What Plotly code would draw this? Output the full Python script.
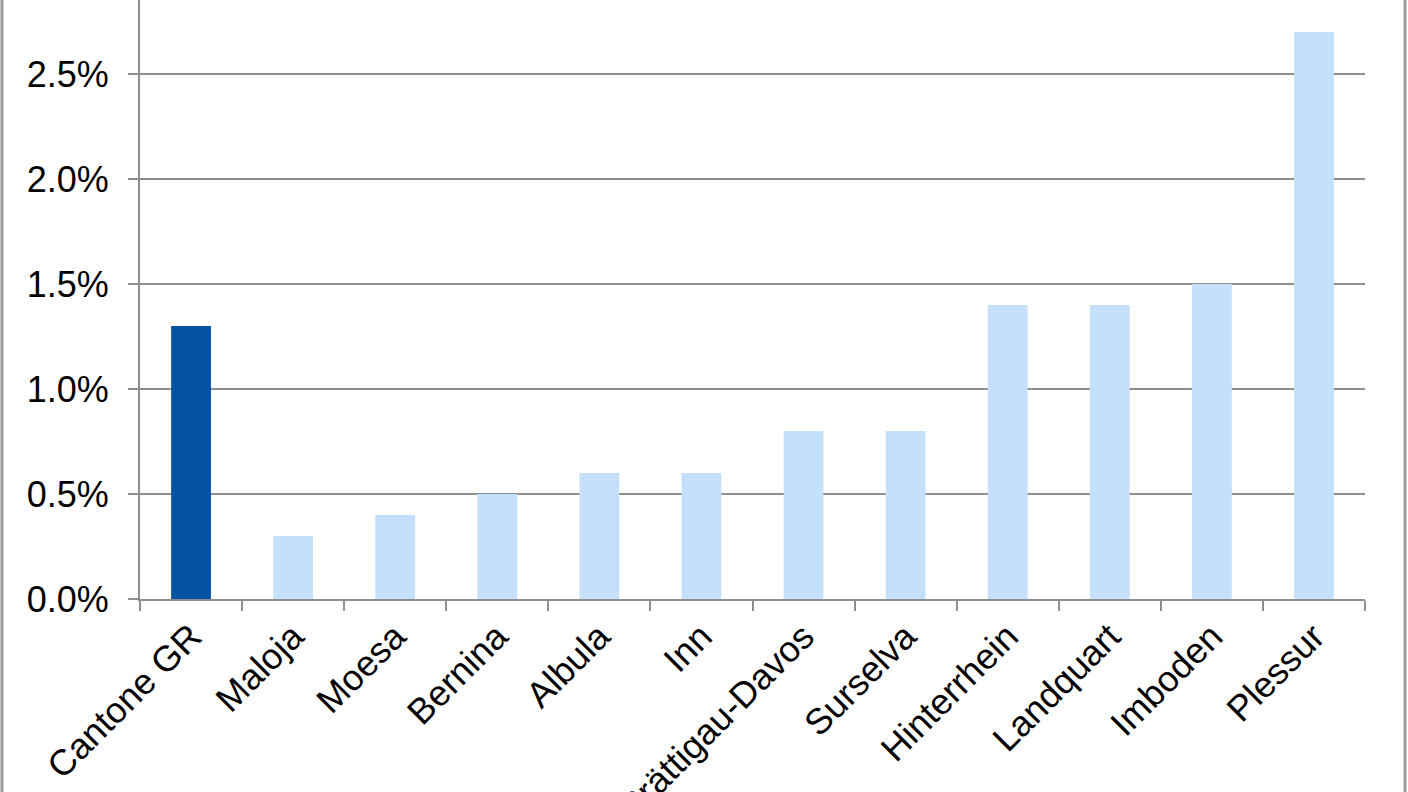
import plotly.graph_objects as go

# Categories and values (share in %)
districts = ["Cantone GR", "Maloja", "Moesa", "Bernina", "Albula", "Inn",
             "Prättigau-Davos", "Surselva", "Hinterrhein", "Landquart",
             "Imboden", "Plessur"]
shares = [1.3, 0.3, 0.4, 0.5, 0.6, 0.6, 0.8, 0.8, 1.4, 1.4, 1.5, 2.7]
tick_vals = [0, 0.5, 1.0, 1.5, 2.0, 2.5, 3.0]
tick_text = ["0.0%", "0.5%", "1.0%", "1.5%", "2.0%", "2.5%", "3.0%"]

# canton bar dark, districts light
bar_colors = ["#0551A2"] + ["#C5E0FA"] * (len(districts) - 1)

fig = go.Figure()
fig.add_trace(go.Bar(
    x=districts,
    y=shares,
    width=0.39,
    marker=dict(color=bar_colors, line=dict(width=0)),
    hovertemplate="%{x}: %{y:.1f}%<extra></extra>",
))

axis_grey = "#8F8F8F"
font_main = dict(family="Liberation Sans, Arial, sans-serif", size=36, color="#000000")

fig.update_layout(
    width=1408,
    height=792,
    margin=dict(l=140, r=43, t=0, b=193),
    paper_bgcolor="white",
    plot_bgcolor="white",
    showlegend=False,
    font=font_main,
    # thin grey frame visible at the left and right edges of the picture
    shapes=[
        dict(type="line", xref="paper", yref="paper",
             x0=-0.1127, x1=-0.1127, y0=-1, y1=2,
             line=dict(color="#9A9A9A", width=3)),
        dict(type="line", xref="paper", yref="paper",
             x0=1.0327, x1=1.0327, y0=-1, y1=2,
             line=dict(color="#9A9A9A", width=3)),
    ],
)

fig.update_xaxes(
    type="category",
    automargin=False,
    tickangle=-45,
    tickson="boundaries",
    ticks="outside",
    ticklen=10,
    tickwidth=2,
    tickcolor=axis_grey,
    showline=True,
    linecolor=axis_grey,
    linewidth=2,
    showgrid=False,
    tickfont=font_main,
)

fig.update_yaxes(
    range=[0, 2.852],
    automargin=False,
    tickvals=tick_vals,
    ticktext=tick_text,
    ticks="outside",
    ticklen=10,
    tickwidth=2,
    tickcolor=axis_grey,
    showline=True,
    linecolor=axis_grey,
    linewidth=2,
    showgrid=True,
    gridcolor=axis_grey,
    gridwidth=2,
    zeroline=False,
    tickfont=font_main,
    ticklabelstandoff=12,
)

# drop the default page margin so the figure sits at the window's corner
fig.write_html("out.html", config={"displayModeBar": False},
               post_script="document.body.style.margin='0';")
